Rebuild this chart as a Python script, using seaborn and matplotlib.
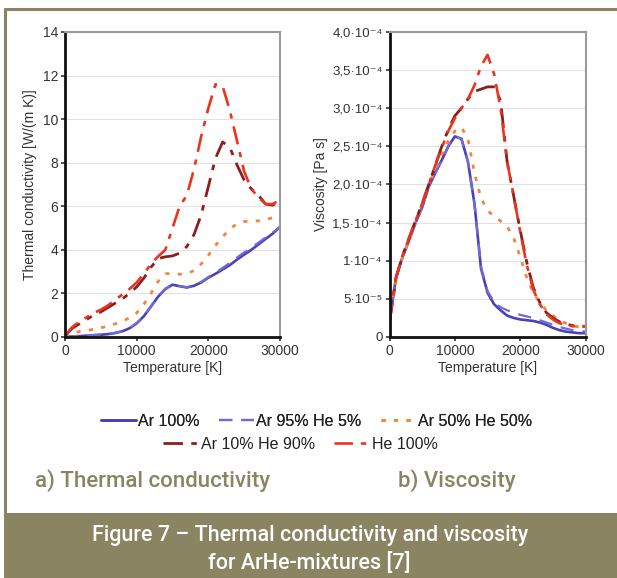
import numpy as np
import pandas as pd
import matplotlib
matplotlib.use('Agg')
import matplotlib.pyplot as plt
import seaborn as sns
from matplotlib.patches import Rectangle
from matplotlib.lines import Line2D

# Data

temperature = list(range(0, 31000, 1000))

series_names = ['Ar 100%', 'Ar 95% He 5%', 'Ar 50% He 50%', 'Ar 10% He 90%', 'He 100%']

# thermal conductivity [W/(m K)]
tc_ar100 = [0.0, 0.02, 0.04, 0.06, 0.08, 0.1, 0.13, 0.18, 0.26, 0.4, 0.62, 0.95, 1.4, 1.85, 2.2, 2.4,
            2.33, 2.27, 2.35, 2.5, 2.72, 2.9, 3.1, 3.3, 3.55, 3.78, 4.0, 4.25, 4.5, 4.75, 5.05]
tc_ar95 = [0.0, 0.03, 0.05, 0.07, 0.09, 0.11, 0.14, 0.19, 0.27, 0.41, 0.63, 0.96, 1.41, 1.86, 2.21, 2.41,
           2.34, 2.28, 2.37, 2.53, 2.75, 2.95, 3.17, 3.4, 3.65, 3.88, 4.1, 4.33, 4.57, 4.8, 5.05]
tc_ar50 = [0.0, 0.15, 0.25, 0.3, 0.35, 0.42, 0.5, 0.6, 0.72, 0.88, 1.1, 1.5, 2.0, 2.55, 2.9, 2.92,
           2.88, 2.9, 3.05, 3.35, 3.75, 4.2, 4.6, 4.95, 5.2, 5.3, 5.32, 5.33, 5.38, 5.48, 5.6]
tc_ar10 = [0.05, 0.4, 0.6, 0.8, 1.0, 1.15, 1.35, 1.55, 1.75, 2.0, 2.3, 2.7, 3.2, 3.6, 3.68, 3.72,
           3.85, 4.15, 4.7, 5.6, 6.9, 8.2, 8.95, 8.7, 7.9, 7.2, 6.8, 6.5, 6.1, 6.05, 6.25]
tc_he100 = [0.05, 0.45, 0.7, 0.9, 1.1, 1.25, 1.45, 1.7, 1.95, 2.2, 2.5, 2.9, 3.35, 3.7, 4.0, 5.0,
            6.0, 6.5, 7.7, 9.2, 10.5, 11.6, 11.5, 10.4, 9.0, 7.6, 6.8, 6.4, 6.1, 6.1, 6.3]

# viscosity [1e-4 Pa s]
vi_ar100 = [0.2, 0.78, 1.05, 1.27, 1.5, 1.7, 1.97, 2.15, 2.32, 2.5, 2.63, 2.6, 2.3, 1.75, 0.9, 0.58,
            0.43, 0.35, 0.28, 0.25, 0.23, 0.22, 0.21, 0.19, 0.16, 0.12, 0.09, 0.07, 0.06, 0.05, 0.05]
vi_ar95 = [0.2, 0.78, 1.05, 1.27, 1.5, 1.7, 1.97, 2.15, 2.32, 2.5, 2.63, 2.6, 2.3, 1.75, 0.92, 0.6,
           0.46, 0.39, 0.35, 0.32, 0.29, 0.27, 0.25, 0.22, 0.19, 0.16, 0.13, 0.11, 0.09, 0.08, 0.07]
vi_ar50 = [0.2, 0.78, 1.05, 1.27, 1.5, 1.72, 1.98, 2.2, 2.4, 2.57, 2.7, 2.75, 2.6, 2.15, 1.82, 1.66,
           1.58, 1.52, 1.45, 1.3, 1.05, 0.78, 0.58, 0.45, 0.35, 0.28, 0.22, 0.18, 0.15, 0.13, 0.12]
vi_ar10 = [0.2, 0.78, 1.07, 1.3, 1.53, 1.75, 2.0, 2.25, 2.5, 2.72, 2.9, 3.0, 3.12, 3.22, 3.25, 3.28,
           3.28, 3.1, 2.3, 1.85, 1.4, 0.98, 0.65, 0.45, 0.32, 0.25, 0.2, 0.17, 0.15, 0.14, 0.14]
vi_he100 = [0.2, 0.78, 1.07, 1.3, 1.53, 1.75, 2.0, 2.25, 2.48, 2.7, 2.87, 3.0, 3.12, 3.3, 3.55, 3.7,
            3.45, 3.0, 2.3, 1.85, 1.38, 0.95, 0.62, 0.43, 0.3, 0.23, 0.18, 0.16, 0.14, 0.14, 0.14]

tc_ticks = [0, 2, 4, 6, 8, 10, 12, 14]
vi_ticks = [0, 0.5, 1.0, 1.5, 2.0, 2.5, 3.0, 3.5, 4.0]
vi_tick_labels = ['0', '5·10⁻⁵', '1·10⁻⁴', '1,5·10⁻⁴', '2,0·10⁻⁴', '2,5·10⁻⁴',
                  '3,0·10⁻⁴', '3,5·10⁻⁴', '4,0·10⁻⁴']
temp_ticks = [0, 10000, 20000, 30000]

# Styles

colors = ['#4b40b8', '#6d6dd4', '#f5843e', '#8c1f1c', '#ea3420']
styles = ['-', (0, (6, 4)), (0, (1.5, 3)), (0, (7, 3, 2, 3)), (0, (7, 3, 2, 3))]
widths = [1.9, 1.6, 2.0, 2.0, 1.9]
olive = '#8b8463'

sns.set_theme(style='white')
plt.rcParams['font.family'] = ['Liberation Sans', 'DejaVu Sans']

tc = pd.DataFrame({'T': temperature, 'Ar 100%': tc_ar100, 'Ar 95% He 5%': tc_ar95,
                   'Ar 50% He 50%': tc_ar50, 'Ar 10% He 90%': tc_ar10, 'He 100%': tc_he100})
vi = pd.DataFrame({'T': temperature, 'Ar 100%': vi_ar100, 'Ar 95% He 5%': vi_ar95,
                   'Ar 50% He 50%': vi_ar50, 'Ar 10% He 90%': vi_ar10, 'He 100%': vi_he100})

fig = plt.figure(figsize=(6.17, 5.78), dpi=100)
ax1 = fig.add_axes([0.1053, 0.417, 0.3485, 0.5277])
ax2 = fig.add_axes([0.6313, 0.417, 0.3177, 0.5277])

for ax, df in [(ax1, tc), (ax2, vi)]:
    for name, c, ls, lw in zip(series_names, colors, styles, widths):
        sns.lineplot(data=df, x='T', y=name, ax=ax, color=c, linestyle=ls, linewidth=lw, label=name)
    ax.get_legend().remove()
    ax.set_xlim(0, 30000)
    ax.set_xticks(temp_ticks)
    ax.set_xlabel('Temperature [K]', fontsize=10, color='#333333', labelpad=2)
    ax.grid(axis='y', color='#e2e2e2', linewidth=0.8)
    ax.set_axisbelow(True)
    for s in ['left', 'bottom']:
        ax.spines[s].set_color('#111111')
        ax.spines[s].set_linewidth(2)
    for s in ['top', 'right']:
        ax.spines[s].set_color('#9a9a9a')
        ax.spines[s].set_linewidth(1.5)
    ax.tick_params(axis='both', labelsize=10, colors='#333333', length=3, width=1.2,
                   direction='out', left=True, bottom=True, pad=2)

ax1.set_ylim(0, 14)
ax1.set_yticks(tc_ticks)
ax1.set_ylabel('Thermal conductivity [W/(m K)]', fontsize=10, color='#333333', labelpad=4)

ax2.set_ylim(0, 4.0)
ax2.set_yticks(vi_ticks)
ax2.set_yticklabels(vi_tick_labels)
ax2.tick_params(axis='y', labelsize=9.5)
ax2.set_ylabel('Viscosity [Pa s]', fontsize=10, color='#333333', labelpad=3)

# Legend in two centred rows
handles, labels = ax1.get_legend_handles_labels()
leg_kw = dict(frameon=False, fontsize=11.5, handlelength=2.2, handletextpad=0.15,
              columnspacing=1.2, labelcolor='#222222')
leg1 = fig.legend(handles[:3], labels[:3], ncol=3, loc='center', bbox_to_anchor=(0.513, 0.2716), **leg_kw)
fig.legend(handles[3:], labels[3:], ncol=2, loc='center', bbox_to_anchor=(0.487, 0.2318), **leg_kw)
fig.add_artist(leg1)

# Panel captions
fig.text(0.057, 0.169, 'a) Thermal conductivity', fontsize=16, color=olive,
         family='Roboto', weight='medium', va='center')
fig.text(0.645, 0.169, 'b) Viscosity', fontsize=16, color=olive,
         family='Roboto', weight='medium', va='center')

# Frame and banner
fig.add_artist(Line2D([0.008, 1.0], [0.9845, 0.9845], color=olive, linewidth=2.2))
fig.add_artist(Line2D([0.008, 0.008], [0.9845, 0.112], color=olive, linewidth=2.2))
fig.add_artist(Rectangle((0.006, 0.0), 0.994, 0.1125, facecolor=olive, edgecolor='none',
                         transform=fig.transFigure))
fig.text(0.502, 0.0735, 'Figure 7 – Thermal conductivity and viscosity', fontsize=15.5, color='white',
         family='Roboto', weight='medium', ha='center', va='center')
fig.text(0.502, 0.026, 'for ArHe-mixtures [7]', fontsize=15.5, color='white',
         family='Roboto', weight='medium', ha='center', va='center')

fig.savefig('out.png', dpi=100)
